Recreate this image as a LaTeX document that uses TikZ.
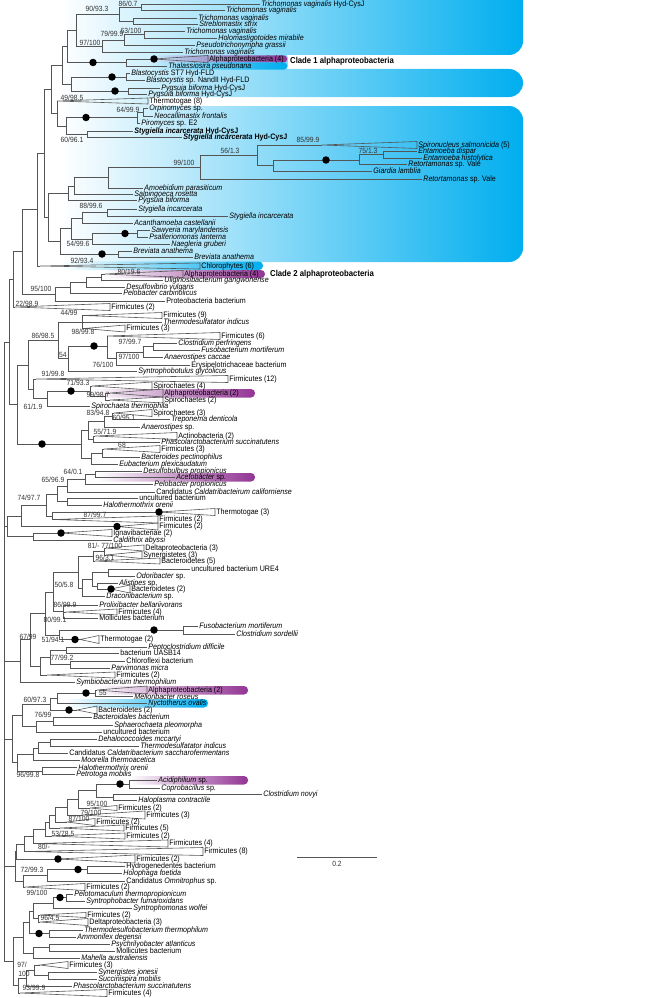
\documentclass[tikz,border=0pt]{standalone}
\usepackage{fontspec}
\setmainfont{Liberation Sans}[FakeStretch=0.9]
\usetikzlibrary{fadings}

\definecolor{bgcyan}{RGB}{0,174,239}
\definecolor{alphapurple}{RGB}{146,52,148}
\definecolor{branchgray}{RGB}{85,85,85}
\tikzfading[name=fadein, left color=transparent!100, right color=transparent!0]

\tikzset{
  br/.style={draw=branchgray, line width=0.6pt},
  tip/.style={anchor=west, inner sep=1.2pt, font=\fontsize{7.9}{9}\selectfont},
  bsup/.style={inner sep=0pt, font=\fontsize{7.5}{9}\selectfont, text=black!80},
  knot/.style={circle, fill=black, inner sep=0pt, minimum size=7.5pt},
  cladetag/.style={anchor=west, inner sep=1pt, font=\bfseries\fontsize{8.6}{9}\selectfont},
  hl/.style={rounded corners=4pt, path fading=fadein},
}

% leaf: name, x, y, text
\newcommand\leaf[4]{\coordinate (#1) at (#2,#3); \node[tip] (#1-l) at (#1) {#4};}
% collapsed clade: name, apex x, y, end x, half height, text
\newcommand\clade[6]{\coordinate (#1) at (#2,#3);
  \draw[br] (#1) -- (#4,{#3-#5}) -- (#4,{#3+#5}) -- cycle;
  \node[tip] (#1-l) at (#4,#3) {#6};}
\newcommand\hub[3]{\coordinate (#1) at (#2,#3);}
\newcommand\links[2]{\foreach \ch in {#2} {\draw[br] (#1) |- (\ch);}}

\begin{document}
\begin{tikzpicture}[x=1pt,y=-1pt]
\useasboundingbox (0,0) rectangle (665,998);

% blue background
\shade[left color=white, right color=bgcyan, rounded corners=14pt] (60,-30) rectangle (523,55);
\shade[left color=white, right color=bgcyan!49, rounded corners=4pt] (60,54) rectangle (288,70);
\shade[left color=white, right color=bgcyan, rounded corners=14pt] (60,69) rectangle (523,97);
\shade[left color=white, right color=bgcyan!19] (60,96) rectangle (150,107);
\shade[left color=white, right color=bgcyan, rounded corners=14pt] (60,106) rectangle (523,262);

% highlights
\fill[alphapurple, hl, rounded corners=3pt] (150,55.5) rectangle (287,62.5);
\fill[bgcyan, hl, rounded corners=3pt] (150,62.5) rectangle (287,69.5);
\fill[bgcyan, hl] (60,261.5) rectangle (263,270);
\fill[alphapurple, hl] (105,270) rectangle (265,278);
\fill[alphapurple, hl] (92,389) rectangle (255,397.5);
\fill[alphapurple, hl] (97,473) rectangle (255,481.5);
\fill[alphapurple, hl] (97,686) rectangle (248,694.5);
\fill[bgcyan, hl] (65,699) rectangle (208,707.5);
\fill[alphapurple, hl] (130,776) rectangle (248,784.5);

% trichomonads
\leaf{tva}{260}{4}{\textit{Trichomonas vaginalis} Hyd-CysJ}
\leaf{tvb}{225}{10}{\textit{Trichomonas vaginalis}}
\hub{na1}{141}{7}
\links{na1}{tva,tvb}
\leaf{tvc}{197}{18}{\textit{Trichomonas vaginalis}}
\leaf{sst}{198}{24}{\textit{Streblomastix strix}}
\hub{na3}{133}{21}
\links{na3}{tvc,sst}
\hub{na2}{119}{14}
\links{na2}{na1,na3}
\leaf{tvd}{185}{31}{\textit{Trichomonas vaginalis}}
\leaf{hmi}{217}{38}{\textit{Holomastigotoides mirabile}}
\hub{na6}{144}{34.5}
\links{na6}{tvd,hmi}
\leaf{pgr}{195}{45}{\textit{Pseudotrichonympha grassii}}
\hub{na7}{124}{40}
\links{na7}{na6,pgr}
\leaf{tve}{183}{52}{\textit{Trichomonas vaginalis}}
\hub{na8}{102}{46}
\links{na8}{na7,tve}
\hub{na4}{76}{30}
\links{na4}{na2,na8}
% clade 1
\clade{ala}{154}{59}{208}{3.5}{Alphaproteobacteria (4)}
\leaf{tps}{167}{66}{\textit{Thalassiosira pseudonana}}
\hub{nc1}{126}{62.5}
\links{nc1}{ala,tps}
\hub{na9}{67}{46}
\links{na9}{na4,nc1}
\leaf{bla}{130}{73}{\textit{Blastocystis} ST7 Hyd-FLD}
\leaf{blb}{145}{80}{\textit{Blastocystis} sp. NandII Hyd-FLD}
\hub{nb1}{126}{77}
\links{nb1}{bla,blb}
\leaf{pba}{160}{88}{\textit{Pygsuia biforma} Hyd-CysJ}
\leaf{pbb}{147}{94}{\textit{Pygsuia biforma} Hyd-CysJ}
\hub{nb3}{128}{91}
\links{nb3}{pba,pbb}
\hub{nb2}{71}{84}
\links{nb2}{nb1,nb3}
\hub{na12}{62}{65}
\links{na12}{na9,nb2}
\clade{the}{57}{101}{148}{3}{Thermotogae (8)}
\leaf{orp}{148}{108}{\textit{Orpinomyces} sp.}
\leaf{neo}{153}{116}{\textit{Neocallimastix frontalis}}
\hub{nb6}{143}{112}
\links{nb6}{orp,neo}
\leaf{pir}{140}{123}{\textit{Piromyces} sp. E2}
\hub{nb7}{137}{117.5}
\links{nb7}{nb6,pir}
\leaf{sta}{133}{131}{\textbf{\textit{Stygiella incarcerata} Hyd-CysJ}}
\leaf{stb}{182}{137}{\textbf{\textit{Stygiella incarcerata} Hyd-CysJ}}
\hub{nb9}{87}{134}
\links{nb9}{sta,stb}
\hub{nb8}{66}{126}
\links{nb8}{nb7,nb9}
\hub{nb4}{57}{113}
\links{nb4}{the,nb8}
\hub{na10}{51}{89}
\links{na10}{na12,nb4}

% diplomonads and other eukaryotes
\clade{spi}{322}{145}{417}{3.5}{\textit{Spironucleus salmonicida} (5)}
\leaf{edi}{417}{151}{\textit{Entamoeba dispar}}
\leaf{ehi}{422}{158}{\textit{Entamoeba histolytica}}
\hub{nc2}{383}{154.5}
\links{nc2}{edi,ehi}
\leaf{rva}{407}{164.5}{\textit{Retortamonas} sp. Vale}
\hub{nc3}{359}{160}
\links{nc3}{nc2,rva}
\leaf{gla}{372}{171}{\textit{Giardia lamblia}}
\hub{nc4}{273}{165.5}
\links{nc4}{nc3,gla}
\hub{ne1}{257}{155}
\links{ne1}{spi,nc4}
\leaf{rvb}{422}{179}{\textit{Retortamonas} sp. Vale}
\hub{ne5}{200}{167}
\links{ne5}{ne1,rvb}
\leaf{apa}{143}{188}{\textit{Amoebidium parasiticum}}
\hub{ne6}{108}{177.5}
\links{ne6}{ne5,apa}
\leaf{sro}{133}{194}{\textit{Salpingoeca rosetta}}
\hub{ne7}{74}{186}
\links{ne7}{ne6,sro}
\leaf{pbc}{137}{200}{\textit{Pygsuia biforma}}
\hub{ne8}{68}{193}
\links{ne8}{ne7,pbc}
\leaf{sia}{137}{209}{\textit{Stygiella incarcerata}}
\leaf{sib}{228}{216}{\textit{Stygiella incarcerata}}
\hub{ne9}{107}{212.5}
\links{ne9}{sia,sib}
\leaf{aca}{133}{223}{\textit{Acanthamoeba castellanii}}
\hub{ne10}{82}{218}
\links{ne10}{ne9,aca}
\leaf{sma}{150}{230}{\textit{Sawyeria marylandensis}}
\leaf{pla}{148}{237}{\textit{Psalteriomonas lanterna}}
\hub{ne11}{137}{233.5}
\links{ne11}{sma,pla}
\leaf{ngr}{170}{244}{\textit{Naegleria gruberi}}
\hub{ne12}{92}{239}
\links{ne12}{ne11,ngr}
\hub{ne13}{71}{228.5}
\links{ne13}{ne10,ne12}
\leaf{baa}{132}{251}{\textit{Breviata anathema}}
\leaf{bab}{193}{257}{\textit{Breviata anathema}}
\hub{ne14}{118}{254}
\links{ne14}{baa,bab}
\hub{ne15}{60}{241}
\links{ne15}{ne13,ne14}
\hub{ne16}{48}{217}
\links{ne16}{ne8,ne15}
\hub{ne0}{44}{153}
\links{ne0}{na10,ne16}
\clade{chl}{40}{266}{200}{3}{Chlorophytes (6)}
\hub{nd1}{37}{209}
\links{nd1}{ne0,chl}

% clade 2
\clade{alb}{105}{274}{183}{3.5}{Alphaproteobacteria (4)}
\leaf{uga}{163}{280.5}{\textit{Uliginosibacterium gangwonense}}
\hub{nd2}{101}{277}
\links{nd2}{alb,uga}
\leaf{dvu}{125}{287}{\textit{Desulfovibrio vulgaris}}
\hub{nd3}{86}{282}
\links{nd3}{nd2,dvu}
\leaf{pca}{122}{293}{\textit{Pelobacter carbinolicus}}
\hub{nd4}{70}{287.5}
\links{nd4}{nd3,pca}
\leaf{prb}{165}{301}{Proteobacteria bacterium}
\hub{nd5}{55}{294}
\links{nd5}{nd4,prb}
\hub{nd6}{22}{251.5}
\links{nd6}{nd1,nd5}
\clade{fa}{15}{307}{110}{3.5}{Firmicutes (2)}
\hub{nd7}{13}{279}
\links{nd7}{nd6,fa}

% firmicutes and spirochaetes
\clade{fb}{84}{315.5}{162}{3}{Firmicutes (9)}
\leaf{tdi}{162}{322}{\textit{Thermodesulfatator indicus}}
\clade{fc}{84}{328.5}{125}{3.5}{Firmicutes (3)}
\hub{nd8}{82}{322}
\links{nd8}{fb,tdi,fc}
\clade{fd}{107}{336}{220}{3.5}{Firmicutes (6)}
\leaf{cpe}{177}{343}{\textit{Clostridium perfringens}}
\leaf{fmo}{200}{350}{\textit{Fusobacterium mortiferum}}
\hub{ee1}{153}{346.5}
\links{ee1}{cpe,fmo}
\leaf{aca2}{163}{357}{\textit{Anaerostipes caccae}}
\hub{ee2}{143}{352}
\links{ee2}{ee1,aca2}
\leaf{ery}{190}{365}{Erysipelotrichaceae bacterium}
\hub{ee3}{116}{358.5}
\links{ee3}{ee2,ery}
\hub{ee4}{107}{346}
\links{ee4}{fd,ee3}
\leaf{sgl}{137}{371}{\textit{Syntrophobotulus glycolicus}}
\hub{ee5}{68}{358.5}
\links{ee5}{ee4,sgl}
\hub{ee6}{58}{340}
\links{ee6}{nd8,ee5}
\clade{fe}{36}{379}{228}{3.5}{Firmicutes (12)}
\clade{spd}{92}{386}{152}{4}{Spirochaetes (4)}
\clade{alc}{110}{393}{163}{4}{Alphaproteobacteria (2)}
\clade{spe}{110}{400}{163}{3}{Spirochaetes (2)}
\hub{ee12}{105}{396.5}
\links{ee12}{alc,spe}
\hub{ee11}{90}{391}
\links{ee11}{spd,ee12}
\leaf{sth}{90}{406}{\textit{Spirochaeta thermophila}}
\hub{ee8}{47}{398.5}
\links{ee8}{ee11,sth}
\hub{ee9}{33}{389}
\links{ee9}{fe,ee8}
\hub{ee7}{28}{365}
\links{ee7}{ee6,ee9}

\clade{spf}{114}{413}{152}{3.5}{Spirochaetes (3)}
\leaf{tde}{170}{419}{\textit{Treponema denticola}}
\hub{nk1}{112}{416}
\links{nk1}{spf,tde}
\leaf{ans}{140}{427}{\textit{Anaerostipes} sp.}
\hub{nk2}{104}{421.5}
\links{nk2}{nk1,ans}
\clade{act}{95}{436}{177}{3.5}{Actinobacteria (2)}
\leaf{psu}{160}{442}{\textit{Phascolarctobacterium succinatutens}}
\hub{nk3}{93}{439}
\links{nk3}{act,psu}
\hub{nk7}{88}{430}
\links{nk7}{nk2,nk3}
\clade{ff}{104}{449}{160}{3.5}{Firmicutes (3)}
\leaf{bpe}{140}{457}{\textit{Bacteroides pectinophilus}}
\hub{nk4}{102}{453}
\links{nk4}{ff,bpe}
\leaf{epl}{118}{464}{\textit{Eubacterium plexicaudatum}}
\hub{nk5}{91}{458.5}
\links{nk5}{nk4,epl}
\hub{nk6}{81}{444}
\links{nk6}{nk7,nk5}
\hub{nka}{17}{404.5}
\links{nka}{ee7,nk6}
\hub{nt2}{9}{342}
\links{nt2}{nd7,nka}

% acetobacter group
\leaf{dpr}{142}{471}{\textit{Desulfobulbus propionicus}}
\leaf{ace}{175}{477}{\textit{Acetobacter} sp.}
\hub{nf1}{95}{474}
\links{nf1}{dpr,ace}
\leaf{ppr}{153}{484}{\textit{Pelobacter propionicus}}
\hub{nf2}{85}{479.5}
\links{nf2}{nf1,ppr}
\leaf{cca}{155}{492}{Candidatus \textit{Caldatribacteirum californiense}}
\hub{nf3}{67}{486}
\links{nf3}{nf2,cca}
\leaf{ubb}{138}{498}{uncultured bacterium}
\leaf{hor}{102}{505}{\textit{Halothermothrix orenii}}
\hub{nf4}{67}{501.5}
\links{nf4}{ubb,hor}
\hub{nf5}{57}{494}
\links{nf5}{nf3,nf4}
\clade{thc}{159}{512}{215}{3.5}{Thermotogae (3)}
\clade{fga}{54}{519.5}{158}{3.5}{Firmicutes (2)}
\hub{nf7}{52}{516}
\links{nf7}{thc,fga}
\hub{nf8}{46}{505}
\links{nf8}{nf5,nf7}
\clade{fgb}{117}{526.5}{158}{3.5}{Firmicutes (2)}
\hub{nf9}{21}{516}
\links{nf9}{nf8,fgb}
\clade{ign}{61}{533}{112}{3.5}{Ignavibacteriae (2)}
\leaf{cab}{112}{540}{\textit{Caldithrix abyssi}}
\hub{nf10}{33}{536.5}
\links{nf10}{ign,cab}
\hub{nf11}{7}{526}
\links{nf11}{nf9,nf10}

% bacteroidetes group
\clade{dla}{106}{548}{144}{3}{Deltaproteobacteria (3)}
\clade{sya}{106}{555}{142}{3.5}{Synergistetes (3)}
\hub{ng1}{104}{551.5}
\links{ng1}{dla,sya}
\clade{bca}{95}{561}{160}{3}{Bacteroidetes (5)}
\hub{ng2}{93}{556}
\links{ng2}{ng1,bca}
\leaf{ure}{190}{569}{uncultured bacterium URE4}
\leaf{odo}{135}{576}{\textit{Odoribacter} sp.}
\hub{ng3}{108}{572.5}
\links{ng3}{ure,odo}
\leaf{ali}{118}{583}{\textit{Alistipes} sp.}
\clade{bcb}{111}{589}{130}{4}{Bacteroidetes (2)}
\hub{ng4}{97}{586}
\links{ng4}{ali,bcb}
\hub{ng5}{92}{579}
\links{ng5}{ng3,ng4}
\leaf{dra}{105}{596}{\textit{Draconibacterium} sp.}
\hub{ng6}{82}{588}
\links{ng6}{ng5,dra}
\hub{ng7}{78}{572}
\links{ng7}{ng2,ng6}
\leaf{pro}{98}{605}{\textit{Prolixibacter bellariivorans}}
\clade{fgc}{66}{612}{117}{3}{Firmicutes (4)}
\leaf{mol}{98}{618}{Mollicutes bacterium}
\hub{ng8}{63}{611.5}
\links{ng8}{pro,fgc,mol}
\hub{ng9}{53}{592}
\links{ng9}{ng7,ng8}
\leaf{fus}{198}{626}{\textit{Fusobacterium mortiferum}}
\leaf{cso}{235}{634}{\textit{Clostridium sordellii}}
\hub{ng10}{183}{630}
\links{ng10}{fus,cso}
\clade{thb}{80}{639.5}{99}{4}{Thermotogae (2)}
\hub{ng11}{59}{635}
\links{ng11}{ng10,thb}
\hub{ng12}{45}{613}
\links{ng12}{ng9,ng11}
\leaf{pep}{147}{647}{\textit{Peptoclostridium difficile}}
\leaf{uas}{119}{653}{bacterium UASB14}
\hub{ng13}{66}{650}
\links{ng13}{pep,uas}
\leaf{chb}{125}{661}{Chloroflexi bacterium}
\leaf{pmi}{110}{668}{\textit{Parvimonas micra}}
\hub{ng14}{70}{664.5}
\links{ng14}{chb,pmi}
\hub{ng15}{50}{657}
\links{ng15}{ng13,ng14}
\clade{fgd}{47}{675}{115}{3}{Firmicutes (2)}
\hub{ng16}{40}{666}
\links{ng16}{ng15,fgd}
\hub{ng17}{30}{639.5}
\links{ng17}{ng12,ng16}
\leaf{sym}{75}{682}{\textit{Symbiobacterium thermophilum}}
\hub{ng18}{20}{661}
\links{ng18}{ng17,sym}

% melioribacter group
\clade{ald}{97}{690}{147}{4}{Alphaproteobacteria (2)}
\leaf{mel}{133}{696.5}{\textit{Melioribacter roseus}}
\hub{nh1}{95}{693}
\links{nh1}{ald,mel}
\leaf{nyc}{147}{703.5}{\textit{Nyctotherus ovalis}}
\hub{nh2}{57}{698}
\links{nh2}{nh1,nyc}
\clade{bcc}{77}{710}{97}{4}{Bacteroidetes (2)}
\hub{nh3}{50}{704}
\links{nh3}{nh2,bcc}
\leaf{bdb}{92}{717}{\textit{Bacteroidales bacterium}}
\leaf{sph}{113}{725}{\textit{Sphaerochaeta pleomorpha}}
\hub{nh4}{53}{721}
\links{nh4}{bdb,sph}
\leaf{ubc}{102}{732}{uncultured bacterium}
\hub{nh5}{36}{726.5}
\links{nh5}{nh4,ubc}
\hub{nh6}{22}{715}
\links{nh6}{nh3,nh5}
\leaf{dmc}{97}{739}{\textit{Dehalococcoides mccartyi}}
\leaf{tdb}{139}{746}{\textit{Thermodesulfatator indicus}}
\hub{nh7}{50}{742.5}
\links{nh7}{dmc,tdb}
\leaf{cal}{68}{753}{Candidatus \textit{Caldatribacterium saccharofermentans}}
\hub{nh8}{38}{748}
\links{nh8}{nh7,cal}
\leaf{moo}{80}{760}{\textit{Moorella thermoacetica}}
\hub{nh9}{33}{754}
\links{nh9}{nh8,moo}
\leaf{hob}{77}{767.5}{\textit{Halothermothrix orenii}}
\leaf{pmo}{75}{774.5}{\textit{Petrotoga mobilis}}
\hub{nh10}{42}{771}
\links{nh10}{hob,pmo}
\hub{nh11}{17}{762.5}
\links{nh11}{nh9,nh10}
\hub{nh12}{12}{739}
\links{nh12}{nh6,nh11}

% firmicutes ladder
\leaf{aci}{157}{780}{\textit{Acidiphilium} sp.}
\leaf{cop}{160}{788}{\textit{Coprobacillus} sp.}
\hub{ni1}{129}{784}
\links{ni1}{aci,cop}
\leaf{cno}{262}{794}{\textit{Clostridium novyi}}
\leaf{hco}{137}{800}{\textit{Haloplasma contractile}}
\hub{ni2}{113}{797}
\links{ni2}{cno,hco}
\hub{ni3}{96}{790.5}
\links{ni3}{ni1,ni2}
\clade{fge}{90}{808}{117}{2.5}{Firmicutes (2)}
\hub{ni4}{78}{799}
\links{ni4}{ni3,fge}
\clade{fgf}{83}{815}{145}{4}{Firmicutes (3)}
\hub{ni5}{67}{807}
\links{ni5}{ni4,fgf}
\clade{fgg}{67}{822}{95}{3.5}{Firmicutes (2)}
\hub{ni6}{55}{815}
\links{ni6}{ni5,fgg}
\clade{fgh}{60}{828}{124}{3}{Firmicutes (5)}
\hub{ni7}{49}{822}
\links{ni7}{ni6,fgh}
\clade{fgi}{52}{836}{125}{3}{Firmicutes (2)}
\hub{ni8}{45}{829}
\links{ni8}{ni7,fgi}
\clade{fgj}{36}{843.5}{168}{3.5}{Firmicutes (4)}
\hub{ni9}{33}{836}
\links{ni9}{ni8,fgj}
\clade{fgk}{27}{851.5}{203}{4}{Firmicutes (8)}
\hub{ni10}{24}{844}
\links{ni10}{ni9,fgk}
\clade{fgl}{58}{859}{135}{4}{Firmicutes (2)}
\hub{ni11}{16}{851.5}
\links{ni11}{ni10,fgl}

\leaf{hyd}{125}{866}{Hydrogenedentes bacterium}
\leaf{hol}{122}{873}{\textit{Holophaga foetida}}
\hub{nj1}{87}{869.5}
\links{nj1}{hyd,hol}
\leaf{omn}{125}{881}{Candidatus \textit{Omnitrophus} sp.}
\hub{nj2}{47}{875}
\links{nj2}{nj1,omn}
\clade{fgm}{25}{887}{85}{3.5}{Firmicutes (2)}
\hub{nj3}{23}{881}
\links{nj3}{nj2,fgm}
\hub{nj0}{15}{866}
\links{nj0}{ni11,nj3}
\leaf{pel}{73}{894}{\textit{Pelotomaculum thermopropionicum}}
\leaf{syf}{85}{901}{\textit{Syntrophobacter fumaroxidans}}
\hub{nj4}{66}{897.5}
\links{nj4}{pel,syf}
\leaf{swo}{132}{908}{\textit{Syntrophomonas wolfei}}
\hub{nj5}{53}{903}
\links{nj5}{nj4,swo}
\clade{fgn}{40}{915}{86}{2.5}{Firmicutes (2)}
\clade{dlb}{40}{922}{88}{3.5}{Deltaproteobacteria (3)}
\hub{nj6}{38}{918.5}
\links{nj6}{fgn,dlb}
\hub{nj7}{33}{911}
\links{nj7}{nj5,nj6}
\leaf{tth}{83}{930}{\textit{Thermodesulfobacterium thermophilum}}
\leaf{amd}{76}{937}{\textit{Ammonifex degensii}}
\hub{nj8}{49}{933.5}
\links{nj8}{tth,amd}
\hub{nj9}{29}{922}
\links{nj9}{nj7,nj8}
\leaf{psa}{110}{944}{\textit{Psychrilyobacter atlanticus}}
\leaf{mob}{115}{951}{Mollicutes bacterium}
\hub{nj10}{49}{947.5}
\links{nj10}{psa,mob}
\leaf{mah}{80}{958}{\textit{Mahella australiensis}}
\hub{nj11}{33}{953}
\links{nj11}{nj10,mah}
\hub{nj12}{23}{937.5}
\links{nj12}{nj9,nj11}

\clade{fgo}{40}{965}{68}{3.5}{Firmicutes (3)}
\leaf{sjo}{97}{972}{\textit{Synergistes jonesii}}
\leaf{smo}{97}{979}{\textit{Succinispira mobilis}}
\hub{nl1}{48}{975.5}
\links{nl1}{sjo,smo}
\hub{nl2}{34}{970}
\links{nl2}{fgo,nl1}
\leaf{phb}{72}{986}{\textit{Phascolarctobacterium succinatutens}}
\hub{nl3}{26}{978}
\links{nl3}{nl2,phb}
\clade{fgp}{20}{993}{107}{3.5}{Firmicutes (4)}
\hub{nl4}{18}{985.5}
\links{nl4}{nl3,fgp}
\hub{nl5}{13}{961}
\links{nl5}{nj12,nl4}

% root
\hub{root}{4}{650}
\links{root}{nt2,nf11,ng18,nh12,nj0,nl5}

% strongly supported nodes
\node[knot] (k1) at (93,62.5) {};
\node[knot] (k2) at (ala) {};
\node[knot] (k3) at (112,77) {};
\node[knot] (k4) at (115,91) {};
\node[knot] (k5) at (86,117.5) {};
\node[knot] (k6) at (326,160) {};
\node[knot] (k7) at (125,233.5) {};
\node[knot] (k8) at (102,254) {};
\node[knot] (k9) at (94,346) {};
\node[knot] (k10) at (71,391) {};
\node[knot] (k11) at (42,444) {};
\node[knot] (k12) at (thc) {};
\node[knot] (k13) at (fgb) {};
\node[knot] (k14) at (ign) {};
\node[knot] (k15) at (bcb) {};
\node[knot] (k16) at (154,630) {};
\node[knot] (k17) at (75,639.5) {};
\node[knot] (k18) at (86,693) {};
\node[knot] (k19) at (69,710) {};
\node[knot] (k20) at (120,784) {};
\node[knot] (k21) at (fgl) {};
\node[knot] (k22) at (78,869.5) {};
\node[knot] (k23) at (60,897.5) {};
\node[knot] (k24) at (39,933.5) {};

% support values
\node[bsup] (s1) at (128,4) {86/0.7};
\node[bsup] (s2) at (97,9) {90/93.3};
\node[bsup] (s3) at (131,31) {63/100};
\node[bsup] (s4) at (112,34) {79/99.9};
\node[bsup] (s5) at (90,43) {97/100};
\node[bsup] (s6) at (72,98) {49/98.5};
\node[bsup] (s7) at (128,110) {64/99.9};
\node[bsup] (s8) at (72,140) {60/96.1};
\node[bsup] (s9) at (308,140) {85/99.9};
\node[bsup] (s10) at (230,151) {56/1.3};
\node[bsup] (s11) at (368,151) {75/1.3};
\node[bsup] (s12) at (184,163) {99/100};
\node[bsup] (s13) at (91,206) {88/99.6};
\node[bsup] (s14) at (78,244) {54/99.6};
\node[bsup] (s15) at (82,261) {92/93.4};
\node[bsup] (s16) at (129,272) {80/19.6};
\node[bsup] (s17) at (41,289) {95/100};
\node[bsup] (s18) at (27,304) {22/98.9};
\node[bsup] (s19) at (69,313) {44/99};
\node[bsup] (s20) at (83,332) {98/99.8};
\node[bsup] (s21) at (43,336) {86/98.5};
\node[bsup] (s22) at (130,342) {97/99.7};
\node[bsup] (s23) at (63,355) {54};
\node[bsup] (s24) at (129,357) {97/100};
\node[bsup] (s25) at (103,365) {76/100};
\node[bsup] (s26) at (53,374) {91/99.8};
\node[bsup] (s27) at (78,383) {71/93.3};
\node[bsup] (s28) at (98,395) {99/98.7};
\node[bsup] (s29) at (33,407) {61/1.9};
\node[bsup] (s30) at (98,413) {83/94.8};
\node[bsup] (s31) at (124,418) {60/95.1};
\node[bsup] (s32) at (105,432) {55/71.9};
\node[bsup] (s33) at (122,445) {68};
\node[bsup] (s34) at (73,472) {64/0.1};
\node[bsup] (s35) at (53,480) {65/96.9};
\node[bsup] (s36) at (29,498) {74/97.7};
\node[bsup] (s37) at (95,515) {87/99.7};
\node[bsup] (s38) at (105,546) {81/- 77/100};
\node[bsup] (s39) at (105,558) {96/3.1};
\node[bsup] (s40) at (64,585) {50/5.8};
\node[bsup] (s41) at (65,605) {86/99.9};
\node[bsup] (s42) at (55,620) {80/99.1};
\node[bsup] (s43) at (28,637) {67/99};
\node[bsup] (s44) at (53,640) {51/94.1};
\node[bsup] (s45) at (62,658) {77/99.2};
\node[bsup] (s46) at (103,693) {55};
\node[bsup] (s47) at (35,700) {60/97.3};
\node[bsup] (s48) at (43,715) {76/99};
\node[bsup] (s49) at (28,775) {96/99.8};
\node[bsup] (s50) at (97,804) {95/100};
\node[bsup] (s51) at (91,813) {79/100};
\node[bsup] (s52) at (79,819) {87/100};
\node[bsup] (s53) at (63,834) {53/78.5};
\node[bsup] (s54) at (44,847) {80/-};
\node[bsup] (s55) at (32,870) {72/99.3};
\node[bsup] (s56) at (37,893) {99/100};
\node[bsup] (s57) at (50,918) {96/4.5};
\node[bsup] (s58) at (22,965) {97/};
\node[bsup] (s59) at (24,974) {100};
\node[bsup] (s60) at (34,988) {93/99.9};

% clade tags
\node[cladetag] (tag1) at (289,61) {Clade 1 alphaproteobacteria};
\node[cladetag] (tag2) at (269,274) {Clade 2 alphaproteobacteria};

% scale bar
\coordinate (sb1) at (297,857);
\coordinate (sb2) at (377,857);
\draw[br] (sb1) -- (sb2);
\node[bsup] (sbl) at (337,864) {0.2};
\end{tikzpicture}
\end{document}
